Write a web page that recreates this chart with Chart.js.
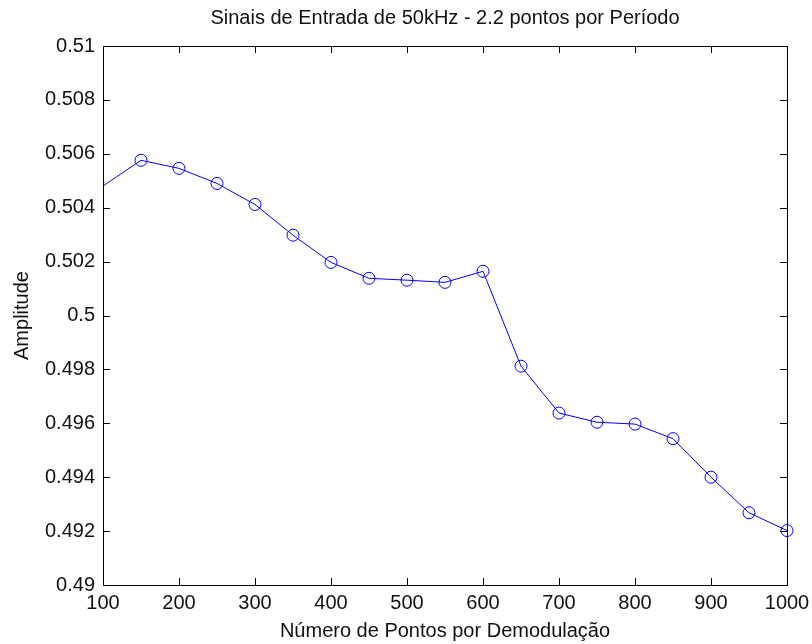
<!DOCTYPE html>
<html>
<head>
<meta charset="utf-8">
<script src="https://cdn.jsdelivr.net/npm/chart.js@4.4.1/dist/chart.umd.min.js"></script>
<style>
  html, body { margin: 0; padding: 0; background: #fff; }
  #wrap { width: 812px; height: 644px; }
</style>
</head>
<body>
<div id="wrap"><canvas id="myChart" width="812" height="644"></canvas></div>
<script>
// Points por demodulação (x) and measured amplitude (y)
const pontos = [50, 150, 200, 250, 300, 350, 400, 450, 500, 550, 600, 650, 700, 750, 800, 850, 900, 950, 1000];
const amplitude = [0.50385, 0.50576, 0.50546, 0.50490, 0.50412, 0.50298, 0.50197, 0.50138, 0.50131, 0.50123,
                   0.50164, 0.49812, 0.49638, 0.49604, 0.49597, 0.49543, 0.49400, 0.49268, 0.49202];

const xTicks = [100, 200, 300, 400, 500, 600, 700, 800, 900, 1000];
const yTicks = [0.49, 0.492, 0.494, 0.496, 0.498, 0.5, 0.502, 0.504, 0.506, 0.508, 0.51];

const FONT = 'Liberation Sans, Arial, sans-serif';

// box around the axes with inward tick marks on all four sides
const boxTicks = {
    id: 'boxTicks',
    afterDraw(chart) {
        const {ctx, chartArea: a, scales: {x, y}} = chart;
        const len = 7;
        ctx.save();
        ctx.strokeStyle = '#000';
        ctx.lineWidth = 1;
        ctx.beginPath();
        x.ticks.forEach(t => {
            const px = Math.round(x.getPixelForValue(t.value)) + 0.5;
            ctx.moveTo(px, a.bottom);
            ctx.lineTo(px, a.bottom - len);
            ctx.moveTo(px, a.top);
            ctx.lineTo(px, a.top + len);
        });
        y.ticks.forEach(t => {
            const py = Math.round(y.getPixelForValue(t.value)) + 0.5;
            ctx.moveTo(a.left, py);
            ctx.lineTo(a.left + len, py);
            ctx.moveTo(a.right, py);
            ctx.lineTo(a.right - len, py);
        });
        ctx.stroke();
        ctx.strokeRect(Math.round(a.left) + 0.5, Math.round(a.top) + 0.5,
                       Math.round(a.right - a.left), Math.round(a.bottom - a.top));
        ctx.restore();
    }
};

const ctx = document.getElementById('myChart').getContext('2d');
new Chart(ctx, {
    type: 'line',
    data: {
        datasets: [{
            data: pontos.map((p, i) => ({x: p, y: amplitude[i]})),
            borderColor: '#0000ff',
            borderWidth: 1,
            pointStyle: 'circle',
            pointRadius: 6,
            pointBorderWidth: 1,
            pointBorderColor: '#0000ff',
            pointBackgroundColor: 'rgba(0,0,0,0)',
            tension: 0,
            fill: false,
            clip: {left: 0, top: false, right: false, bottom: false}
        }]
    },
    options: {
        responsive: false,
        animation: false,
        events: [],
        layout: { padding: 0 },
        scales: {
            x: {
                type: 'linear',
                min: 100,
                max: 1000,
                afterBuildTicks: s => { s.ticks = xTicks.map(v => ({value: v})); },
                afterFit: s => {
                    s.height = 59;
                    s.paddingLeft = 0;
                    s.paddingRight = 25;
                },
                grid: { display: false, drawTicks: false },
                border: { display: false },
                ticks: {
                    padding: 6,
                    color: '#111',
                    font: { family: FONT, size: 20 },
                    maxRotation: 0,
                    callback: v => String(v)
                },
                title: {
                    display: true,
                    text: 'Número de Pontos por Demodulação',
                    color: '#111',
                    font: { family: FONT, size: 20 },
                    padding: { top: 0, bottom: 1 }
                }
            },
            y: {
                min: 0.49,
                max: 0.51,
                afterBuildTicks: s => { s.ticks = yTicks.map(v => ({value: v})); },
                afterFit: s => {
                    s.width = 103;
                    s.paddingTop = 0;
                    s.paddingBottom = 0;
                },
                grid: { display: false, drawTicks: false },
                border: { display: false },
                ticks: {
                    padding: 8,
                    color: '#111',
                    font: { family: FONT, size: 20 },
                    callback: v => String(v)
                },
                title: {
                    display: true,
                    text: 'Amplitude',
                    color: '#111',
                    font: { family: FONT, size: 20 },
                    padding: { top: 10, bottom: 0 }
                }
            }
        },
        plugins: {
            legend: { display: false },
            tooltip: { enabled: false },
            title: {
                display: true,
                fullSize: false,
                text: 'Sinais de Entrada de 50kHz - 2.2 pontos por Período',
                color: '#111',
                font: { family: FONT, size: 20, weight: 'normal' },
                padding: { top: 6, bottom: 16 }
            }
        }
    },
    plugins: [boxTicks]
});
</script>
</body>
</html>
